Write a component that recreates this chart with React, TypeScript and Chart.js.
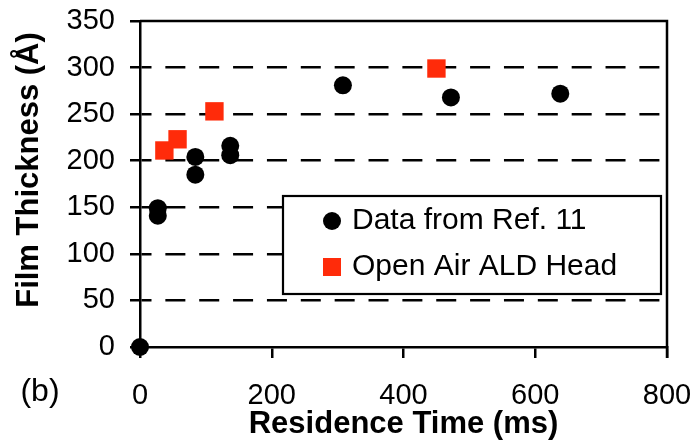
import React, { useEffect, useRef } from 'react';
import { Chart, registerables } from 'chart.js';

Chart.register(...registerables);

// ---- Data ----
const seriesNames = ['Data from Ref. 11', 'Open Air ALD Head'];
const refTime = [0, 27, 27, 84, 84, 137, 137, 308, 472, 638];
const refThickness = [0, 149, 141, 204, 185, 216, 206, 281, 268, 272];
const aldTime = [37, 57, 113, 450];
const aldThickness = [211, 223, 253, 299];
const xTickValues = [0, 200, 400, 600, 800];
const yTickValues = [0, 50, 100, 150, 200, 250, 300, 350];
const xTitle = 'Residence Time (ms)';
const yTitle = 'Film Thickness (Å)';
const panelLabel = '(b)';

const FONT = '"Liberation Sans", Arial, sans-serif';
const RED = '#FF2B0A';

const framePlugin = {
  id: 'frame',
  beforeDatasetsDraw(chart: any) {
    const { ctx, chartArea: a } = chart;
    ctx.save();
    ctx.strokeStyle = '#000';
    ctx.lineWidth = 2.5;
    ctx.beginPath();
    ctx.moveTo(a.left, a.top);
    ctx.lineTo(a.right, a.top);
    ctx.lineTo(a.right, a.bottom + 11);
    ctx.stroke();
    ctx.restore();
  },
  afterDraw(chart: any) {
    const { ctx, chartArea: a } = chart;
    ctx.save();
    // legend box
    const bl = a.left + 143;
    const bt = a.top + 175;
    const br = a.right - 6;
    const bb = bt + 98;
    ctx.fillStyle = '#fff';
    ctx.fillRect(bl, bt, br - bl, bb - bt);
    ctx.strokeStyle = '#000';
    ctx.lineWidth = 2.2;
    ctx.strokeRect(bl, bt, br - bl, bb - bt);
    const rows = [bt + 25, bt + 71];
    const mx = bl + 49;
    chart.data.datasets.forEach((ds: any, i: number) => {
      const y = rows[i];
      ctx.fillStyle = ds.backgroundColor;
      if (ds.pointStyle === 'rect') {
        ctx.fillRect(mx - 9, y - 9, 18, 18);
      } else {
        ctx.beginPath();
        ctx.arc(mx, y, 9, 0, Math.PI * 2);
        ctx.fill();
      }
      ctx.fillStyle = '#000';
      ctx.font = `30px ${FONT}`;
      ctx.textAlign = 'left';
      ctx.textBaseline = 'middle';
      ctx.fillText(ds.label, bl + 69, y);
    });
    // panel label
    ctx.font = `32px ${FONT}`;
    ctx.textAlign = 'center';
    ctx.textBaseline = 'middle';
    ctx.fillStyle = '#000';
    ctx.fillText(panelLabel, 40, 392);
    // y-axis title (slightly above the plot centre, as in the reference)
    ctx.translate(29, (a.top + a.bottom) / 2 - 14);
    ctx.rotate(-Math.PI / 2);
    ctx.font = `bold 31px ${FONT}`;
    ctx.fillText(yTitle, 0, 0);
    ctx.restore();
  },
};

export default function App() {
  const canvasRef = useRef<HTMLCanvasElement | null>(null);

  useEffect(() => {
    if (!canvasRef.current) return;
    const chart = new Chart(canvasRef.current, {
      type: 'scatter',
      data: {
        datasets: [
          {
            label: seriesNames[0],
            data: refTime.map((x, i) => ({ x, y: refThickness[i] })),
            backgroundColor: '#000',
            borderWidth: 0,
            pointStyle: 'circle',
            pointRadius: 9,
            clip: false,
          } as any,
          {
            label: seriesNames[1],
            data: aldTime.map((x, i) => ({ x, y: aldThickness[i] })),
            backgroundColor: RED,
            borderWidth: 0,
            pointStyle: 'rect',
            pointRadius: 13,
            clip: false,
          } as any,
        ],
      },
      options: {
        animation: false,
        responsive: false,
        events: [],
        layout: { padding: { left: 0, right: 29, top: 21, bottom: 0 } },
        plugins: {
          legend: { display: false },
          tooltip: { enabled: false },
        },
        scales: {
          x: {
            type: 'linear',
            min: 0,
            max: 800,
            afterBuildTicks: (s: any) => {
              s.ticks = xTickValues.map((v) => ({ value: v }));
            },
            afterFit: (s: any) => {
              s.height = 94;
              s.paddingLeft = 0;
              s.paddingRight = 0;
              s.paddingTop = 0;
              s.paddingBottom = 0;
            },
            grid: {
              drawOnChartArea: false,
              drawTicks: true,
              tickLength: 11,
              tickColor: '#000',
              tickWidth: 2.5,
              color: '#000',
              lineWidth: 2.5,
            },
            border: { display: true, color: '#000', width: 2.5 },
            ticks: {
              color: '#000',
              font: { family: FONT, size: 29 },
              padding: 21,
              maxRotation: 0,
            },
            title: {
              display: true,
              text: xTitle,
              color: '#000',
              font: { family: FONT, size: 31, weight: 'bold' },
              padding: { top: 0, bottom: -2 },
            },
          },
          y: {
            type: 'linear',
            min: 0,
            max: 350,
            afterBuildTicks: (s: any) => {
              s.ticks = yTickValues.map((v) => ({ value: v }));
            },
            afterFit: (s: any) => {
              s.width = 140;
              s.paddingLeft = 0;
              s.paddingRight = 0;
              s.paddingTop = 0;
              s.paddingBottom = 0;
            },
            grid: {
              drawOnChartArea: true,
              drawTicks: true,
              tickLength: 10,
              tickColor: '#000',
              tickWidth: 2.5,
              lineWidth: 2.5,
              color: (c: any) =>
                c.tick && (c.tick.value === 0 || c.tick.value === 350)
                  ? 'rgba(0,0,0,0)'
                  : '#000',
            },
            border: {
              display: true,
              color: '#000',
              width: 2.5,
              dash: [20, 13.86],
              dashOffset: 10,
            },
            ticks: {
              color: '#000',
              font: { family: FONT, size: 29 },
              padding: 15,
            },
            title: { display: false },
          },
        },
      } as any,
      plugins: [framePlugin],
    });
    return () => chart.destroy();
  }, []);

  return (
    <div style={{ position: 'absolute', left: 0, top: 0, width: 696, height: 441, background: '#fff' }}>
      <canvas ref={canvasRef} width={696} height={441} />
    </div>
  );
}
